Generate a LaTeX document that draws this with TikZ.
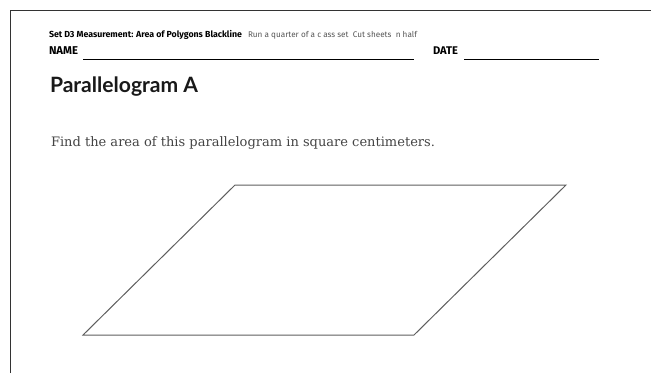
\documentclass[tikz,border=0pt]{standalone}
\usepackage{fontspec}
\usepackage{graphicx}
\setmainfont{DejaVu Serif}
\newfontfamily\headfont{Fira Sans}
\newfontfamily\titlefont{Lato}

\definecolor{framegray}{HTML}{333333}
\definecolor{textgray}{HTML}{444444}
\definecolor{notegray}{HTML}{555555}
\definecolor{shapegray}{HTML}{5E5E5E}

\tikzset{
    txt/.style={anchor=base west, inner sep=0pt, outer sep=0pt},
    blankline/.style={black, line width=0.9pt},
}

% fit a text to a given width
\newcommand{\fitto}[2]{\resizebox{#1}{!}{#2}}

\begin{document}
\begin{tikzpicture}[x=1pt, y=-1pt]
    \useasboundingbox (0,0) rectangle (651,373);

    % Page frame (left and top edges)
    \draw[framegray, line width=0.9pt] (10.5,373) -- (10.5,10.5) -- (651,10.5);

    % Header line
    \node[txt, font=\headfont\bfseries, black] (setname) at (49,37)
        {\fitto{193pt}{Set D3 Measurement: Area of Polygons Blackline}};
    \node[txt, font=\headfont, notegray] (runnote) at (248,37)
        {\fitto{169pt}{Run a quarter of a c ass set\ \ Cut sheets\ \ n half}};

    % Name and date blanks
    \node[txt, font=\headfont\bfseries] (namelbl) at (49,54) {\fitto{29pt}{NAME}};
    \draw[blankline] (83,59) -- (414,59);
    \node[txt, font=\headfont\bfseries] (datelbl) at (433,54) {\fitto{25pt}{DATE}};
    \draw[blankline] (464,59) -- (599,59);

    % Title
    \node[txt, font=\titlefont\bfseries, black!90] (title) at (50,92)
        {\fitto{148pt}{Parallelogram A}};

    % Question
    \node[txt, textgray] (question) at (51,146)
        {\fitto{384pt}{Find the area of this parallelogram in square centimeters.}};

    % Parallelogram corners
    \coordinate (pa) at (83,335);
    \coordinate (pb) at (414,335);
    \coordinate (pc) at (566,185);
    \coordinate (pd) at (235,185);
    \draw[shapegray, line width=1pt] (pa) -- (pb) -- (pc) -- (pd) -- cycle;
\end{tikzpicture}
\end{document}
